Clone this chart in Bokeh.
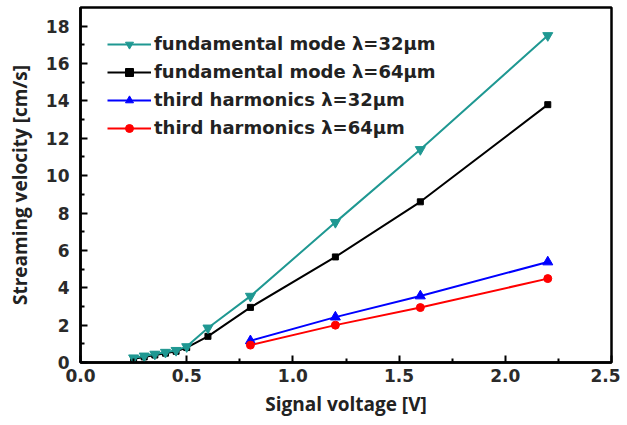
from bokeh.plotting import figure
from bokeh.models import Range1d, FixedTicker, Legend, LegendItem, PrintfTickFormatter
from bokeh.embed import file_html
from bokeh.resources import INLINE

# ---- data ----
x_fund = [0.25, 0.3, 0.35, 0.4, 0.45, 0.5, 0.6, 0.8, 1.2, 1.6, 2.2]
y_fund32 = [0.25, 0.35, 0.45, 0.55, 0.65, 0.85, 1.85, 3.55, 7.5, 11.4, 17.5]
y_fund64 = [0.2, 0.3, 0.4, 0.5, 0.6, 0.8, 1.4, 2.95, 5.65, 8.6, 13.8]
x_third = [0.8, 1.2, 1.6, 2.2]
y_third32 = [1.16, 2.43, 3.56, 5.38]
y_third64 = [0.93, 2.0, 2.94, 4.49]

labels = ["fundamental mode λ=32μm", "fundamental mode λ=64μm",
          "third harmonics λ=32μm", "third harmonics λ=64μm"]
x_major = [0.0, 0.5, 1.0, 1.5, 2.0, 2.5]
x_minor = [0.25, 0.75, 1.25, 1.75, 2.25]
y_major = [0, 2, 4, 6, 8, 10, 12, 14, 16, 18]
y_minor = [1, 3, 5, 7, 9, 11, 13, 15, 17]

teal = "#1f9892"

p = figure(width=620, height=420, output_backend="svg", toolbar_location=None,
           x_range=Range1d(0, 2.5), y_range=Range1d(0, 19),
           min_border_left=80, min_border_right=9, min_border_top=7, min_border_bottom=58)
p.grid.visible = False
p.outline_line_color = "black"
p.outline_line_width = 2.5

r1l = p.line(x_fund, y_fund32, color=teal, line_width=2)
r1m = p.scatter(x_fund, y_fund32, marker="inverted_triangle", size=10, color=teal)
r2l = p.line(x_fund, y_fund64, color="black", line_width=2)
r2m = p.scatter(x_fund, y_fund64, marker="square", size=6, color="black")
r3l = p.line(x_third, y_third32, color="#0000ff", line_width=2)
r3m = p.scatter(x_third, y_third32, marker="triangle", size=10, color="#0000ff")
r4l = p.line(x_third, y_third64, color="#ff0000", line_width=2)
r4m = p.scatter(x_third, y_third64, marker="circle", size=8, color="#ff0000")
# teal drawn on top at the low end
p.renderers.append(p.renderers.pop(0))
p.renderers.append(p.renderers.pop(0))

p.xaxis.ticker = FixedTicker(ticks=x_major, minor_ticks=x_minor)
p.yaxis.ticker = FixedTicker(ticks=y_major, minor_ticks=y_minor)
p.xaxis.formatter = PrintfTickFormatter(format="%.1f")
for ax in (p.xaxis, p.yaxis):
    ax.axis_line_width = 2.5
    ax.major_tick_in = 7
    ax.major_tick_out = 0
    ax.minor_tick_in = 4
    ax.minor_tick_out = 0
    ax.major_tick_line_width = 2
    ax.minor_tick_line_width = 2
    ax.major_label_text_font = "DejaVu Sans"
    ax.major_label_text_font_style = "bold"
    ax.major_label_text_font_size = "17px"
    ax.major_label_text_color = "#2a2a2a"
    ax.axis_label_text_font = "Open Sans"
    ax.axis_label_text_font_style = "bold"
    ax.axis_label_text_font_size = "19px"
    ax.axis_label_text_color = "#222222"
p.xaxis.major_label_standoff = 6
p.yaxis.major_label_standoff = 11
p.xaxis.axis_label = "Signal voltage [V]"
p.yaxis.axis_label = "Streaming velocity [cm/s]"
p.xaxis.axis_label_standoff = 6
p.yaxis.axis_label_standoff = 10

legend = Legend(items=[
    LegendItem(label=labels[0], renderers=[r1l, r1m]),
    LegendItem(label=labels[1], renderers=[r2l, r2m]),
    LegendItem(label=labels[2], renderers=[r3l, r3m]),
    LegendItem(label=labels[3], renderers=[r4l, r4m]),
], location=(27, 224))
legend.border_line_alpha = 0
legend.background_fill_alpha = 0
legend.padding = 0
legend.margin = 0
legend.spacing = 7
legend.glyph_width = 44
legend.glyph_height = 20
legend.label_height = 20
legend.label_standoff = 3
legend.label_text_font = "DejaVu Sans"
legend.label_text_font_style = "bold"
legend.label_text_font_size = "18px"
legend.label_text_color = "#222222"
p.add_layout(legend, "center")

open("out.html", "w").write(file_html(p, INLINE))
